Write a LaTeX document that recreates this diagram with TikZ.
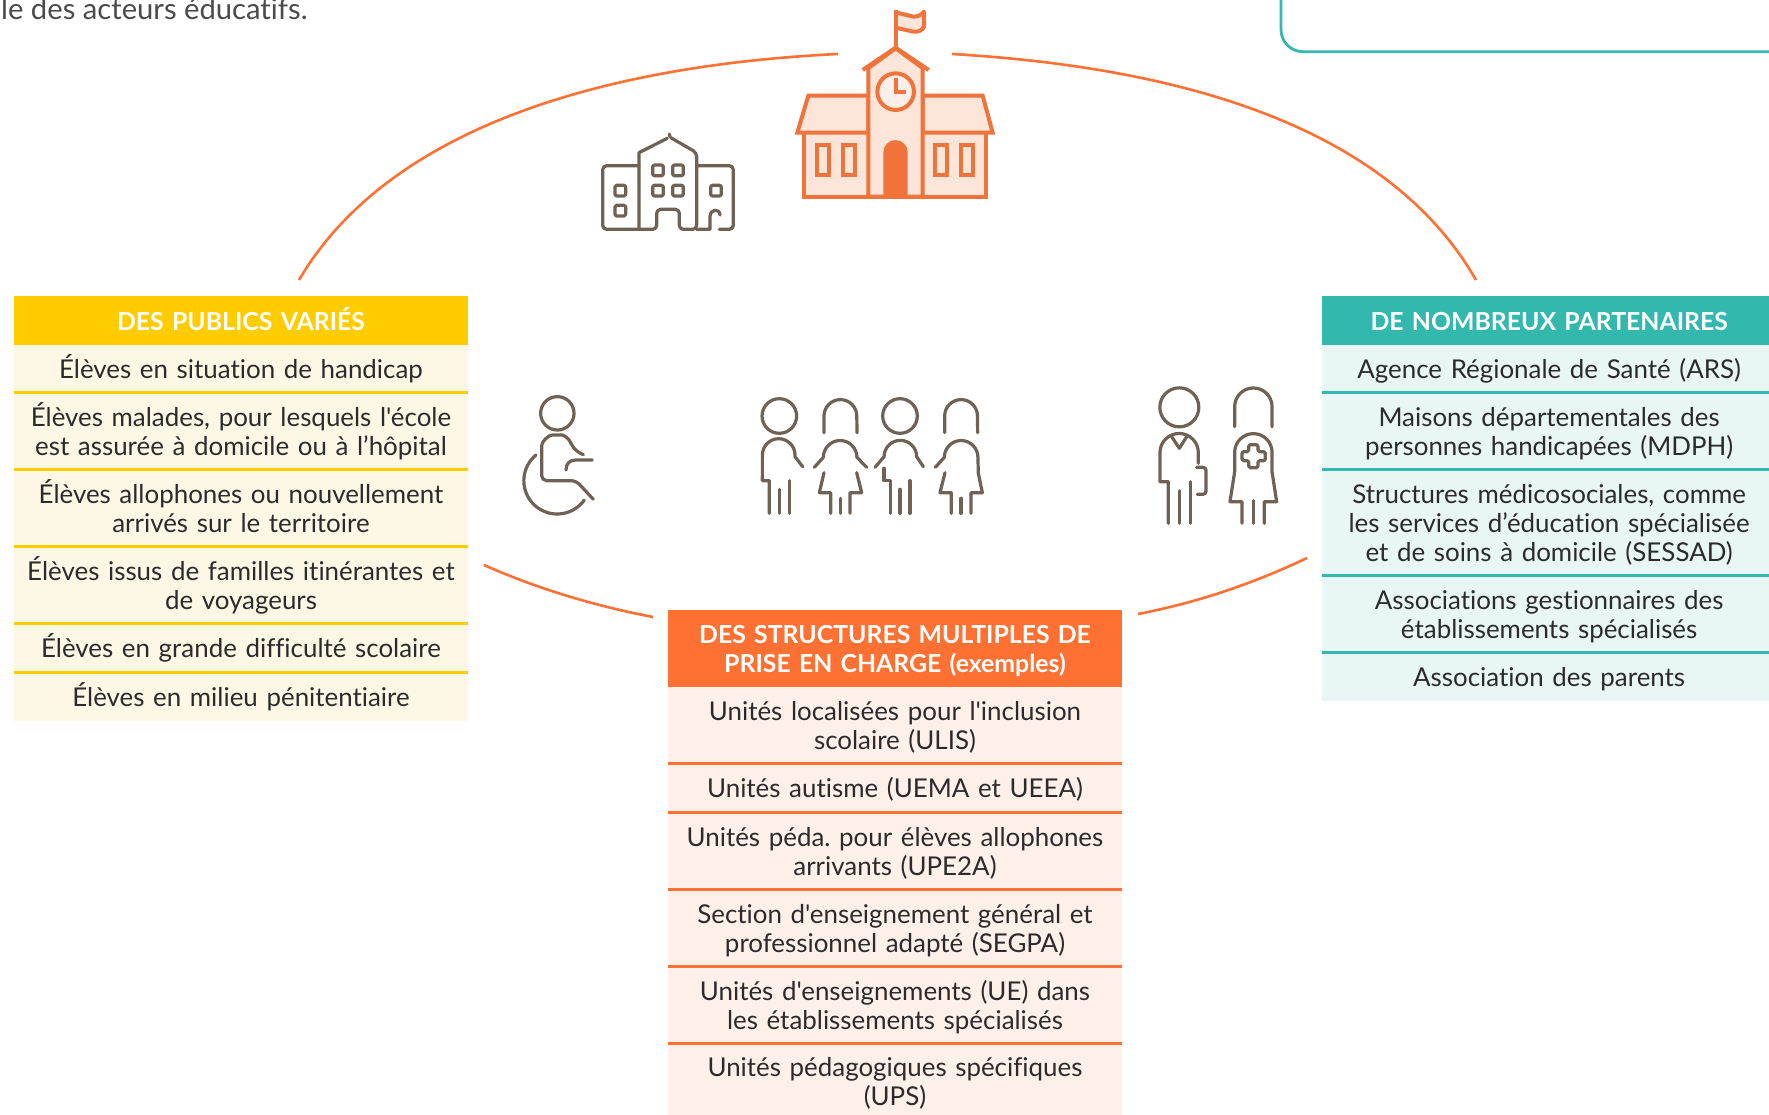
\documentclass[tikz,border=0pt]{standalone}
\usepackage{fontspec}
\setmainfont[Ligatures={TeXOff,NoCommon}]{Lato}
\definecolor{ink}{HTML}{2B2B2B}
\definecolor{yel}{HTML}{FFCC00}
\definecolor{yelL}{HTML}{FDF8E6}
\definecolor{tea}{HTML}{33B8AE}
\definecolor{teaL}{HTML}{E8F6F5}
\definecolor{ora}{HTML}{FF7033}
\definecolor{oraL}{HTML}{FFF0E9}
\definecolor{sch}{HTML}{F0733C}
\definecolor{schL}{HTML}{FDE5D9}
\definecolor{gry}{HTML}{6F6254}
\newcommand\rowstrut{\rule[-4.4pt]{0pt}{29pt}}
\newcommand\tabrow[7]{%
  \pgfmathsetmacro\mx{(#2+#3)/2}\pgfmathsetmacro\my{(#4+#5)/2}%
  \pgfmathsetmacro\mw{#3-#2}\pgfmathsetmacro\mh{#5-#4}%
  \node[#6,text width=\mw pt,minimum height=\mh pt] (#1) at (\mx,\my) {#7};}
\tikzset{
  cell/.style={inner sep=0pt,outer sep=0pt,align=center,
    font=\fontsize{25.9}{29}\selectfont,text=ink,
    execute at begin node={\lineskiplimit=-50pt\frenchspacing\rowstrut},execute at end node=\rowstrut},
  headcell/.style={cell,font=\fontsize{24.8}{29}\selectfont\bfseries,text=white},
  sepY/.style={draw=yel,line width=3pt},
  sepT/.style={draw=tea,line width=3pt},
  sepO/.style={draw=ora,line width=3pt},
  ring/.style={draw=ora,line width=2.6pt},
  grayicon/.style={draw=gry,line width=3.2pt,line cap=round,line join=round},
  schoolicon/.style={draw=sch,line width=4pt,line join=miter},
}
\begin{document}
\begin{tikzpicture}[x=1pt,y=1pt,yscale=-1]
\useasboundingbox (0,0) rectangle (1769,1115);
\clip (0,0) rectangle (1769,1115);
\fill[white] (0,0) rectangle (1769,1115);
% top text and teal frame
\node[anchor=base west,inner sep=0pt,font=\fontsize{29.2}{34}\selectfont,text=ink!85!white] (intro) at (1,20) {le des acteurs éducatifs.};
\coordinate (fa) at (1281,-5);\coordinate (fb) at (1775,51.7);
\draw[tea,line width=2.8pt,rounded corners=22pt] (fa) |- (fb);
% arcs
\coordinate (a1) at (299,280);\coordinate (a2) at (838,54);
\coordinate (a3) at (952,54);\coordinate (a4) at (1476,280);
\coordinate (a5) at (484,565);\coordinate (a6) at (653,617);
\coordinate (a7) at (1138,614);\coordinate (a8) at (1307,558);
\draw[ring] (a1) .. controls (390,125) and (610,65) .. (a2);
\draw[ring] (a3) .. controls (1190,68) and (1390,130) .. (a4);
\draw[ring] (a5) .. controls (540,590) and (600,607) .. (a6);
\draw[ring] (a7) .. controls (1195,603) and (1250,585) .. (a8);
% left table
\tabrow{lh}{14}{468}{296}{345}{headcell,fill=yel}{DES PUBLICS VARIÉS}
\tabrow{l1}{14}{468}{345}{392.7}{cell,fill=yelL}{Élèves en situation de handicap}
\tabrow{l2}{14}{468}{392.7}{469.3}{cell,fill=yelL}{Élèves malades, pour lesquels l'école\\est assurée à domicile ou à l’hôpital}
\tabrow{l3}{14}{468}{469.3}{546.7}{cell,fill=yelL}{Élèves allophones ou nouvellement\\arrivés sur le territoire}
\tabrow{l4}{14}{468}{546.7}{623.3}{cell,fill=yelL}{Élèves issus de familles itinérantes et\\de voyageurs}
\tabrow{l5}{14}{468}{623.3}{672}{cell,fill=yelL}{Élèves en grande difficulté scolaire}
\tabrow{l6}{14}{468}{672}{720.7}{cell,fill=yelL}{Élèves en milieu pénitentiaire}
\foreach \n in {l1,l2,l3,l4,l5}{\draw[sepY] (\n.south west) -- (\n.south east);}
% right table (runs off the page edge)
\tabrow{rh}{1322.3}{1776}{296}{345}{headcell,fill=tea}{DE NOMBREUX PARTENAIRES}
\tabrow{r1}{1322.3}{1776}{345}{392.7}{cell,fill=teaL}{Agence Régionale de Santé (ARS)}
\tabrow{r2}{1322.3}{1776}{392.7}{469.3}{cell,fill=teaL}{Maisons départementales des\\personnes handicapées (MDPH)}
\tabrow{r3}{1322.3}{1776}{469.3}{575.3}{cell,fill=teaL}{Structures médicosociales, comme\\les services d’éducation spécialisée\\et de soins à domicile (SESSAD)}
\tabrow{r4}{1322.3}{1776}{575.3}{652}{cell,fill=teaL}{Associations gestionnaires des\\établissements spécialisés}
\tabrow{r5}{1322.3}{1776}{652}{700.7}{cell,fill=teaL}{Association des parents}
\foreach \n in {r1,r2,r3,r4}{\draw[sepT] (\n.south west) -- (\n.south east);}
% centre table
\tabrow{ch}{668}{1122}{610}{686.7}{headcell,fill=ora}{DES STRUCTURES MULTIPLES DE\\PRISE EN CHARGE (exemples)}
\tabrow{c1}{668}{1122}{686.7}{763.7}{cell,fill=oraL}{Unités localisées pour l'inclusion\\scolaire (ULIS)}
\tabrow{c2}{668}{1122}{763.7}{812}{cell,fill=oraL}{Unités autisme (UEMA et UEEA)}
\tabrow{c3}{668}{1122}{812}{889.3}{cell,fill=oraL}{Unités péda. pour élèves allophones\\arrivants (UPE2A)}
\tabrow{c4}{668}{1122}{889.3}{966}{cell,fill=oraL}{Section d'enseignement général et\\professionnel adapté (SEGPA)}
\tabrow{c5}{668}{1122}{966}{1043.3}{cell,fill=oraL}{Unités d'enseignements (UE) dans\\les établissements spécialisés}
\tabrow{c6}{668}{1122}{1043.3}{1118}{cell,fill=oraL}{Unités pédagogiques spécifiques\\(UPS)}
\foreach \n in {c1,c2,c3,c4,c5}{\draw[sepO] (\n.south west) -- (\n.south east);}
% school
\begin{scope}[shift={(560,0)},x=0.33333pt,y=0.33333pt]
  \draw[schoolicon,fill=schL,line join=round] (1007,37) -- (1060,50) .. controls (1072,50) and (1085,45) .. (1092,35) -- (1092,80) .. controls (1088,92) and (1072,97) .. (1060,95) -- (1007,83);
  \draw[schoolicon] (1007,30) -- (1007,145);
  \fill[schL] (733,398) rectangle (1277,590);
  \draw[schoolicon,fill=schL] (925,287) -- (745,287) -- (712,398) -- (925,398) -- cycle;
  \draw[schoolicon,fill=schL] (1088,287) -- (1268,287) -- (1298,398) -- (1088,398) -- cycle;
  \draw[schoolicon] (733,398) -- (733,590) -- (1277,590) -- (1277,398);
  \draw[schoolicon,fill=schL] (925,590) -- (925,204) -- (1007,145) -- (1088,204) -- (1088,590) -- cycle;
  \draw[schoolicon] (908,210) -- (1007,143) -- (1106,210);
  \draw[schoolicon,fill=schL!60!white] (1007,275) circle[radius=18.3pt];
  \draw[sch,line width=4pt] (1007,234) -- (1007,275) -- (1038,275);
  \fill[sch] (970,590) -- (970,457) arc[start angle=180,end angle=360,radius=12.2pt] -- (1043,590) -- cycle;
  \foreach \wx in {772,849,1125,1202}{\draw[schoolicon] (\wx,435) rectangle ++(36,90);}
\end{scope}
% grey building
\begin{scope}[shift={(560,0)},x=0.33333pt,y=0.33333pt,grayicon]
  \draw[rounded corners=4pt] (237,497) -- (128,497) -- (128,688) -- (290,688) -- (290,628) -- (358,628) -- (358,688) -- (410,688) -- (410,458) -- (332,413);
  \draw (237,688) -- (237,458) -- (322,415);
  \draw (328,402) -- (330,410);
  \draw[rounded corners=4pt] (410,497) -- (520,497) -- (520,688) -- (478,688);
  \draw (410,688) -- (450,688) -- (450,650) .. controls (450,625) and (480,625) .. (480,645);
  \foreach \qx/\qy in {165/556,165/616,278/495,338/495,278/556,338/556,452/556}{
    \draw[rounded corners=1.5pt] (\qx,\qy) rectangle ++(32,32);}
\end{scope}
% wheelchair and children
\begin{scope}[shift={(500,380)},x=0.33333pt,y=0.33333pt,grayicon]
  \draw (172,100) circle[radius=16.7pt];
  \draw[rounded corners=5pt] (250,224) -- (230,215) -- (215,195) .. controls (205,175) and (190,165) .. (172,165) .. controls (145,165) and (125,185) .. (125,212) -- (125,302) -- (228,302) -- (280,358);
  \draw (198,270) .. controls (198,250) and (210,240) .. (228,240) -- (277,240);
  \draw (108,225) arc[start angle=230.6,end angle=35.4,radius=33.3pt];
  % boy 1
  \draw (838,108) circle[radius=17.3pt];
  \draw (908,260) -- (885,230) -- (885,225) arc[start angle=0,end angle=-180,radius=16.3pt] -- (787,302) -- (808,302) -- (808,400);
  \draw (838,328) -- (838,400);
  \draw (868,302) -- (868,400);
  % girl 1
  \draw (972,158) -- (972,108) arc[start angle=180,end angle=360,radius=16.4pt] -- (1071,158);
  \draw (943,262) -- (970,232) arc[start angle=180,end angle=360,radius=16.8pt] -- (1100,262);
  \draw (972,278) -- (958,338) -- (992,338) -- (992,400);
  \draw (1021,355) -- (1021,400);
  \draw (1050,400) -- (1050,338) -- (1085,338) -- (1070,278);
  % boy 2
  \draw (1200,108) circle[radius=17.3pt];
  \draw (1270,260) -- (1250,230) arc[start angle=0,end angle=-180,radius=16.3pt] -- (1125,262);
  \draw (1152,265) -- (1152,302) -- (1171,302) -- (1171,400);
  \draw (1200,328) -- (1200,400);
  \draw (1230,302) -- (1230,400);
  % girl 2
  \draw (1334,158) -- (1334,108) arc[start angle=180,end angle=360,radius=16.4pt] -- (1433,158);
  \draw (1306,262) -- (1333,232) arc[start angle=180,end angle=360,radius=16.8pt] -- (1435,280) -- (1447,338) -- (1413,338) -- (1413,400);
  \draw (1383,355) -- (1383,400);
  \draw (1354,400) -- (1354,338) -- (1320,338) -- (1335,278);
\end{scope}
% doctor and nurse
\begin{scope}[shift={(1130,370)},x=0.33333pt,y=0.33333pt,grayicon]
  \draw (148,112) circle[radius=19.5pt];
  \draw (205,280) -- (205,248) arc[start angle=0,end angle=-180,radius=19.2pt] -- (90,335) -- (115,335) -- (115,460);
  \draw (148,362) -- (148,460);
  \draw (181,335) -- (181,460);
  \draw (125,200) -- (148,235) -- (170,200);
  \draw[rounded corners=3pt] (200,292) -- (228,292) -- (228,373) -- (202,373);
  \draw (314,170) -- (314,110) arc[start angle=180,end angle=360,radius=18.7pt] -- (426,170);
  \draw (336,460) -- (336,395) -- (300,395) -- (314,305) -- (314,247) arc[start angle=180,end angle=360,radius=18.7pt] -- (426,305) -- (440,395) -- (403,395) -- (403,460);
  \draw (370,392) -- (370,460);
  \draw[rounded corners=1.5pt] (356,224) -- (384,224) -- (384,245) -- (406,245) -- (406,272) -- (384,272) -- (384,293) -- (356,293) -- (356,272) -- (336,272) -- (336,245) -- (356,245) -- cycle;
\end{scope}
\end{tikzpicture}
\end{document}
